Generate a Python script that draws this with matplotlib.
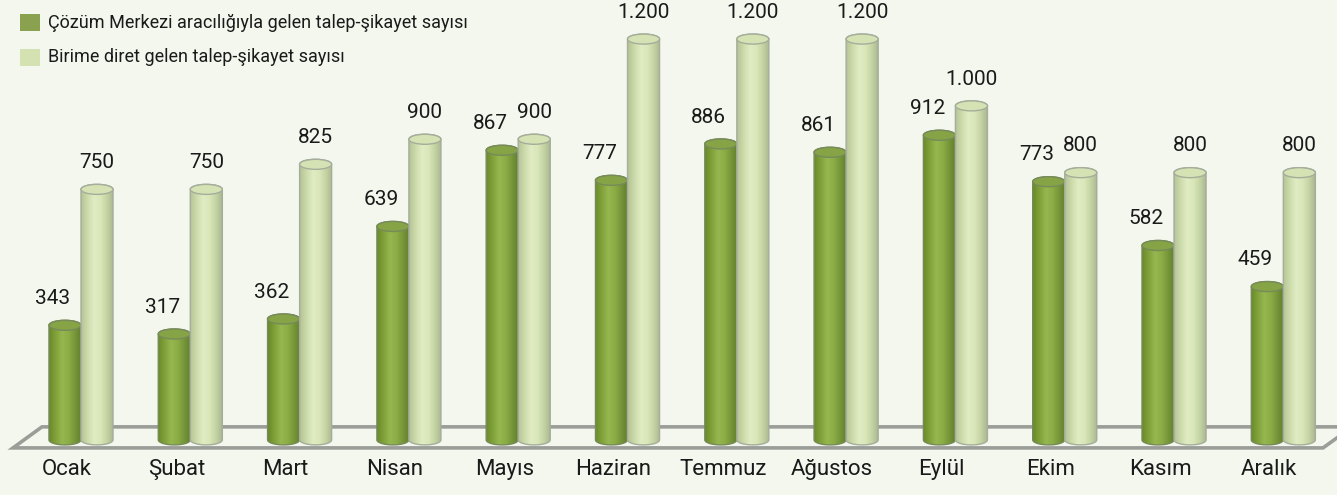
import numpy as np
import matplotlib
matplotlib.use("Agg")
from matplotlib import pyplot as plt
from matplotlib.patches import Ellipse, Polygon, Rectangle
from matplotlib.colors import LinearSegmentedColormap

months = ["Ocak", "Şubat", "Mart", "Nisan", "Mayıs", "Haziran",
          "Temmuz", "Ağustos", "Eylül", "Ekim", "Kasım", "Aralık"]
merkez = [343, 317, 362, 639, 867, 777, 886, 861, 912, 773, 582, 459]
birim = [750, 750, 825, 900, 900, 1200, 1200, 1200, 1000, 800, 800, 800]
series_names = ["Çözüm Merkezi aracılığıyla gelen talep-şikayet sayısı",
                "Birime diret gelen talep-şikayet sayısı"]

BG = "#f4f7ee"
plt.rcParams['font.family'] = ['Roboto', 'DejaVu Sans']

# gradients left -> right across the cylinder body
dark_cmap = LinearSegmentedColormap.from_list(
    "dark", ["#6a8a2a", "#81a23a", "#96b650", "#8cac45", "#76963a", "#627d2b"])
light_cmap = LinearSegmentedColormap.from_list(
    "light", ["#b5c397", "#cddcab", "#e0ecc3", "#d8e6b8", "#c4d3a2", "#a9b48f"])


def fmt(v):
    return f"{v:,}".replace(",", ".")


def cylinder(ax, xc, h, w, eh, cmap, top_color, edge, z):
    # body outline: front half of bottom ellipse + back half of top ellipse
    t = np.linspace(np.pi, 2 * np.pi, 40)
    tt = np.linspace(0, np.pi, 40)
    verts = np.concatenate([
        np.column_stack([xc + w / 2 * np.cos(t), eh / 2 * np.sin(t)]),
        np.column_stack([xc + w / 2 * np.cos(tt), h + eh / 2 * np.sin(tt)]),
    ])
    body = Polygon(verts, closed=True, facecolor="none", edgecolor=edge,
                   lw=1.0, zorder=z + 0.2)
    ax.add_patch(body)
    grad = np.linspace(0, 1, 64).reshape(1, -1)
    im = ax.imshow(grad, cmap=cmap, aspect="auto", interpolation="bilinear",
                   extent=[xc - w / 2, xc + w / 2, -eh / 2, h + eh / 2], zorder=z)
    im.set_clip_path(body)
    ax.add_patch(Ellipse((xc, h), w, eh, facecolor=top_color, edgecolor=edge,
                         lw=1.0, zorder=z + 0.3))


fig = plt.figure(figsize=(13.37, 4.95), dpi=100, facecolor=BG)
ax = fig.add_axes([0, 0, 1, 1])
ax.set_facecolor(BG)

w = 0.293   # cylinder width (month units)
eh = 30     # ellipse height (value units)

# floor
floor = Polygon([(-0.622, -24), (11.363, -24), (11.63, 39), (-0.357, 39)],
                closed=True, facecolor=BG, edgecolor="#9b9e98", lw=2.6,
                joinstyle="miter", zorder=1)
ax.add_patch(floor)

for i, (a, b) in enumerate(zip(merkez, birim)):
    xd = i - w / 2
    xl = i + w / 2
    cylinder(ax, xd, a, w, eh, dark_cmap, "#86a445", "#768a5a", 2 + i * 0.01)
    cylinder(ax, xl, b, w, eh, light_cmap, "#d5e2b3", "#a5ad9b", 3 + i * 0.01)
    ax.text(xd - 0.11, a + 80, fmt(a), ha="center", va="center",
            fontsize=15, color="#1a1a1a", zorder=5)
    ax.text(xl, b + 80, fmt(b), ha="center", va="center",
            fontsize=15, color="#1a1a1a", zorder=5)
    ax.text(i - 0.128, -90, months[i], ha="center", va="center",
            fontsize=16, color="#1a1a1a", zorder=5)

# legend
for k, (name, col) in enumerate(zip(series_names, ["#8aa14f", "#d4e1b1"])):
    y0 = 1 - (14 + 35 * k) / 495
    ax.add_patch(Rectangle((20 / 1337, y0 - 17 / 495), 20 / 1337, 17 / 495,
                           transform=ax.transAxes, facecolor=col,
                           edgecolor="none", zorder=6))
    ax.text(48 / 1337, y0 - 8.5 / 495, name, transform=ax.transAxes,
            ha="left", va="center", fontsize=13, color="#1a1a1a", zorder=6)

ax.set_xlim(-0.741, 11.491)
ax.set_ylim(-165, 1317)
ax.axis("off")

fig.savefig("out.png", dpi=100, facecolor=BG)
